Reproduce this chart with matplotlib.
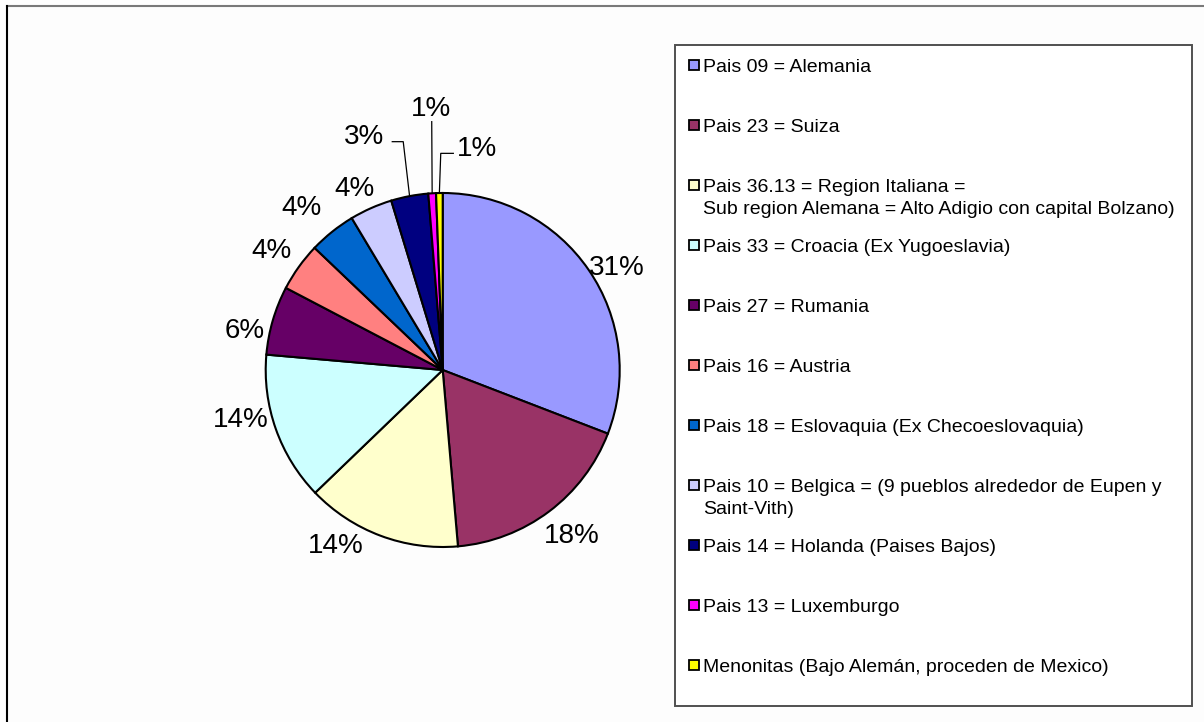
import numpy as np
import matplotlib.pyplot as plt
from matplotlib.patches import Rectangle

plt.rcParams['font.family'] = ['Liberation Sans', 'DejaVu Sans']

# ----------------------------
# Data (shares, in %)
# ----------------------------
labels = [
    "Pais 09 = Alemania",
    "Pais 23 = Suiza",
    "Pais 36.13 = Region Italiana =\nSub region Alemana = Alto Adigio con capital Bolzano)",
    "Pais 33 = Croacia (Ex Yugoeslavia)",
    "Pais 27 = Rumania",
    "Pais 16 = Austria",
    "Pais 18 = Eslovaquia (Ex Checoeslovaquia)",
    "Pais 10 = Belgica = (9 pueblos alrededor de Eupen y\nSaint-Vith)",
    "Pais 14 = Holanda (Paises Bajos)",
    "Pais 13 = Luxemburgo",
    "Menonitas (Bajo Alemán, proceden de Mexico)",
]
shares = [30.9, 17.8, 14.2, 13.6, 6.3, 4.45, 4.3, 3.9, 3.4, 0.7, 0.6]
colors = ["#9999FF", "#993366", "#FFFFCC", "#CCFFFF", "#660066", "#FF8080",
          "#0066CC", "#CCCCFF", "#000080", "#FF00FF", "#FFFF00"]

# ----------------------------
# Layout (pie radius = 1)
# ----------------------------
label_xy = [(0.983, 0.593), (0.729, -0.923), (-0.603, -0.979), (-1.141, -0.264),
            (-1.121, 0.236), (-0.966, 0.688), (-0.797, 0.932), (-0.501, 1.040),
            (-0.445, 1.332), (-0.068, 1.493), (0.192, 1.267)]
# leader lines for the small slices: index -> (start, elbow)
leaders = {
    8: ((-0.285, 1.290), (-0.223, 1.290)),
    9: ((-0.062, 1.403), (-0.062, 1.403)),
    10: ((0.060, 1.224), (-0.011, 1.224)),
}

W, H = 1204, 722
fig = plt.figure(figsize=(W / 100, H / 100), dpi=100)
fig.patch.set_facecolor("white")

# background overlay in pixel coords: frame + legend
bg = fig.add_axes([0, 0, 1, 1], zorder=0)
bg.set_xlim(0, W)
bg.set_ylim(H, 0)
bg.axis("off")
bg.add_patch(Rectangle((7, 6), W, H, facecolor="#FDFDFD", edgecolor="none"))
bg.plot([7, W], [6, 6], color="#7a7a7a", lw=1.5)
bg.plot([7, 7], [6, H], color="black", lw=1.5)

bg.add_patch(Rectangle((675, 45), 517, 661, facecolor="white",
                       edgecolor="#505050", lw=1.4))
row0, step, line_h = 65, 60, 22
for i, (lab, col) in enumerate(zip(labels, colors)):
    y = row0 + i * step
    bg.add_patch(Rectangle((689, y - 5), 10, 10, facecolor=col,
                           edgecolor="black", lw=1.3))
    for j, line in enumerate(lab.split("\n")):
        bg.text(703, y + j * line_h, line, fontsize=14, ha="left",
                va="center_baseline", color="black")

# ----------------------------
# Pie
# ----------------------------
R = 177.0
cx, cy = 442.7, 370.0
k = 1.7
side = 2 * k * R
ax = fig.add_axes([(cx - side / 2) / W, (H - cy - side / 2) / H, side / W, side / H],
                  zorder=1)
wedges, _ = ax.pie(shares, colors=colors, startangle=90, counterclock=False,
                   radius=1.0, wedgeprops=dict(edgecolor="black", linewidth=1.5))
ax.set_xlim(-k, k)
ax.set_ylim(-k, k)
ax.axis("off")

total = sum(shares)
for i, (w, v) in enumerate(zip(wedges, shares)):
    x, y = label_xy[i]
    ax.text(x, y, f"{v / total * 100:.0f}%", fontsize=20, ha="center",
            va="center_baseline", color="black")
    if i in leaders:
        mid = np.deg2rad((w.theta1 + w.theta2) / 2)
        end = (np.cos(mid), np.sin(mid))
        (sx, sy), (ex, ey) = leaders[i]
        ax.plot([sx, ex, end[0]], [sy, ey, end[1]], color="black", lw=0.9,
                zorder=0.5)

fig.savefig("out.png", dpi=100)
